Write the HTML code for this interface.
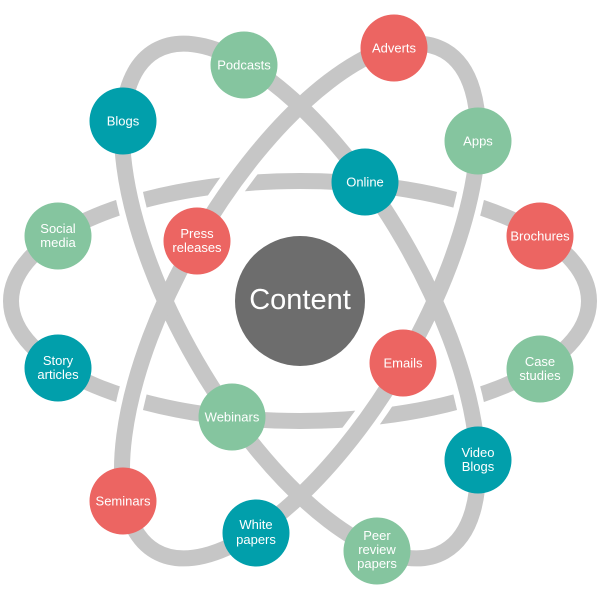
<!DOCTYPE html>
<html>
<head>
<meta charset="utf-8">
<style>
  html, body { margin: 0; padding: 0; background: #ffffff; }
  svg { display: block; }
  text { font-family: "Liberation Sans", sans-serif; fill: #ffffff; }
</style>
</head>
<body>
<svg width="600" height="600" viewBox="0 0 600 600" xmlns="http://www.w3.org/2000/svg">
  <rect width="600" height="600" fill="#ffffff"/>
  <!-- horizontal orbit (under) -->
  <ellipse cx="300" cy="301" rx="289" ry="120" fill="none" stroke="#c6c6c6" stroke-width="16"/>
  <!-- white gaps for tilted orbits -->
  <ellipse cx="300" cy="301" rx="289" ry="120" fill="none" stroke="#ffffff" stroke-width="28" transform="rotate(60 300 301)"/>
  <ellipse cx="300" cy="301" rx="289" ry="120" fill="none" stroke="#ffffff" stroke-width="28" transform="rotate(-60 300 301)"/>
  <!-- tilted orbits -->
  <ellipse cx="300" cy="301" rx="289" ry="120" fill="none" stroke="#c6c6c6" stroke-width="16" transform="rotate(60 300 301)"/>
  <ellipse cx="300" cy="301" rx="289" ry="120" fill="none" stroke="#c6c6c6" stroke-width="16" transform="rotate(-60 300 301)"/>

  <!-- center -->
  <circle cx="300" cy="301" r="65" fill="#6d6d6d"/>
  <text x="300" y="309" font-size="29" text-anchor="middle">Content</text>

  <g font-size="13" text-anchor="middle">
    <!-- Podcasts -->
    <circle cx="244" cy="65" r="33.5" fill="#85c59f"/>
    <text x="244" y="69.5">Podcasts</text>
    <!-- Blogs -->
    <circle cx="123" cy="121" r="33.5" fill="#019fab"/>
    <text x="123" y="125.5">Blogs</text>
    <!-- Social media -->
    <circle cx="58" cy="236" r="33.5" fill="#85c59f"/>
    <text x="58" y="233">Social</text>
    <text x="58" y="247">media</text>
    <!-- Press releases -->
    <circle cx="197" cy="241" r="33.5" fill="#ec6562"/>
    <text x="197" y="238">Press</text>
    <text x="197" y="252">releases</text>
    <!-- Adverts -->
    <circle cx="394" cy="48" r="33.5" fill="#ec6562"/>
    <text x="394" y="52.5">Adverts</text>
    <!-- Apps -->
    <circle cx="478" cy="141" r="33.5" fill="#85c59f"/>
    <text x="478" y="145.5">Apps</text>
    <!-- Online -->
    <circle cx="365" cy="182" r="33.5" fill="#019fab"/>
    <text x="365" y="186.5">Online</text>
    <!-- Brochures -->
    <circle cx="540" cy="236" r="33.5" fill="#ec6562"/>
    <text x="540" y="240.5">Brochures</text>
    <!-- Story articles -->
    <circle cx="58" cy="368" r="33.5" fill="#019fab"/>
    <text x="58" y="365">Story</text>
    <text x="58" y="379">articles</text>
    <!-- Webinars -->
    <circle cx="232" cy="417" r="33.5" fill="#85c59f"/>
    <text x="232" y="421.5">Webinars</text>
    <!-- Seminars -->
    <circle cx="123" cy="501" r="33.5" fill="#ec6562"/>
    <text x="123" y="505.5">Seminars</text>
    <!-- White papers -->
    <circle cx="256" cy="533" r="33.5" fill="#019fab"/>
    <text x="256" y="529">White</text>
    <text x="256" y="544">papers</text>
    <!-- Emails -->
    <circle cx="403" cy="363" r="33.5" fill="#ec6562"/>
    <text x="403" y="367.5">Emails</text>
    <!-- Case studies -->
    <circle cx="540" cy="369" r="33.5" fill="#85c59f"/>
    <text x="540" y="366">Case</text>
    <text x="540" y="380">studies</text>
    <!-- Video Blogs -->
    <circle cx="478" cy="460" r="33.5" fill="#019fab"/>
    <text x="478" y="457">Video</text>
    <text x="478" y="471">Blogs</text>
    <!-- Peer review papers -->
    <circle cx="377" cy="551" r="33.5" fill="#85c59f"/>
    <text x="377" y="540">Peer</text>
    <text x="377" y="554">review</text>
    <text x="377" y="568">papers</text>
  </g>
</svg>
</body>
</html>
